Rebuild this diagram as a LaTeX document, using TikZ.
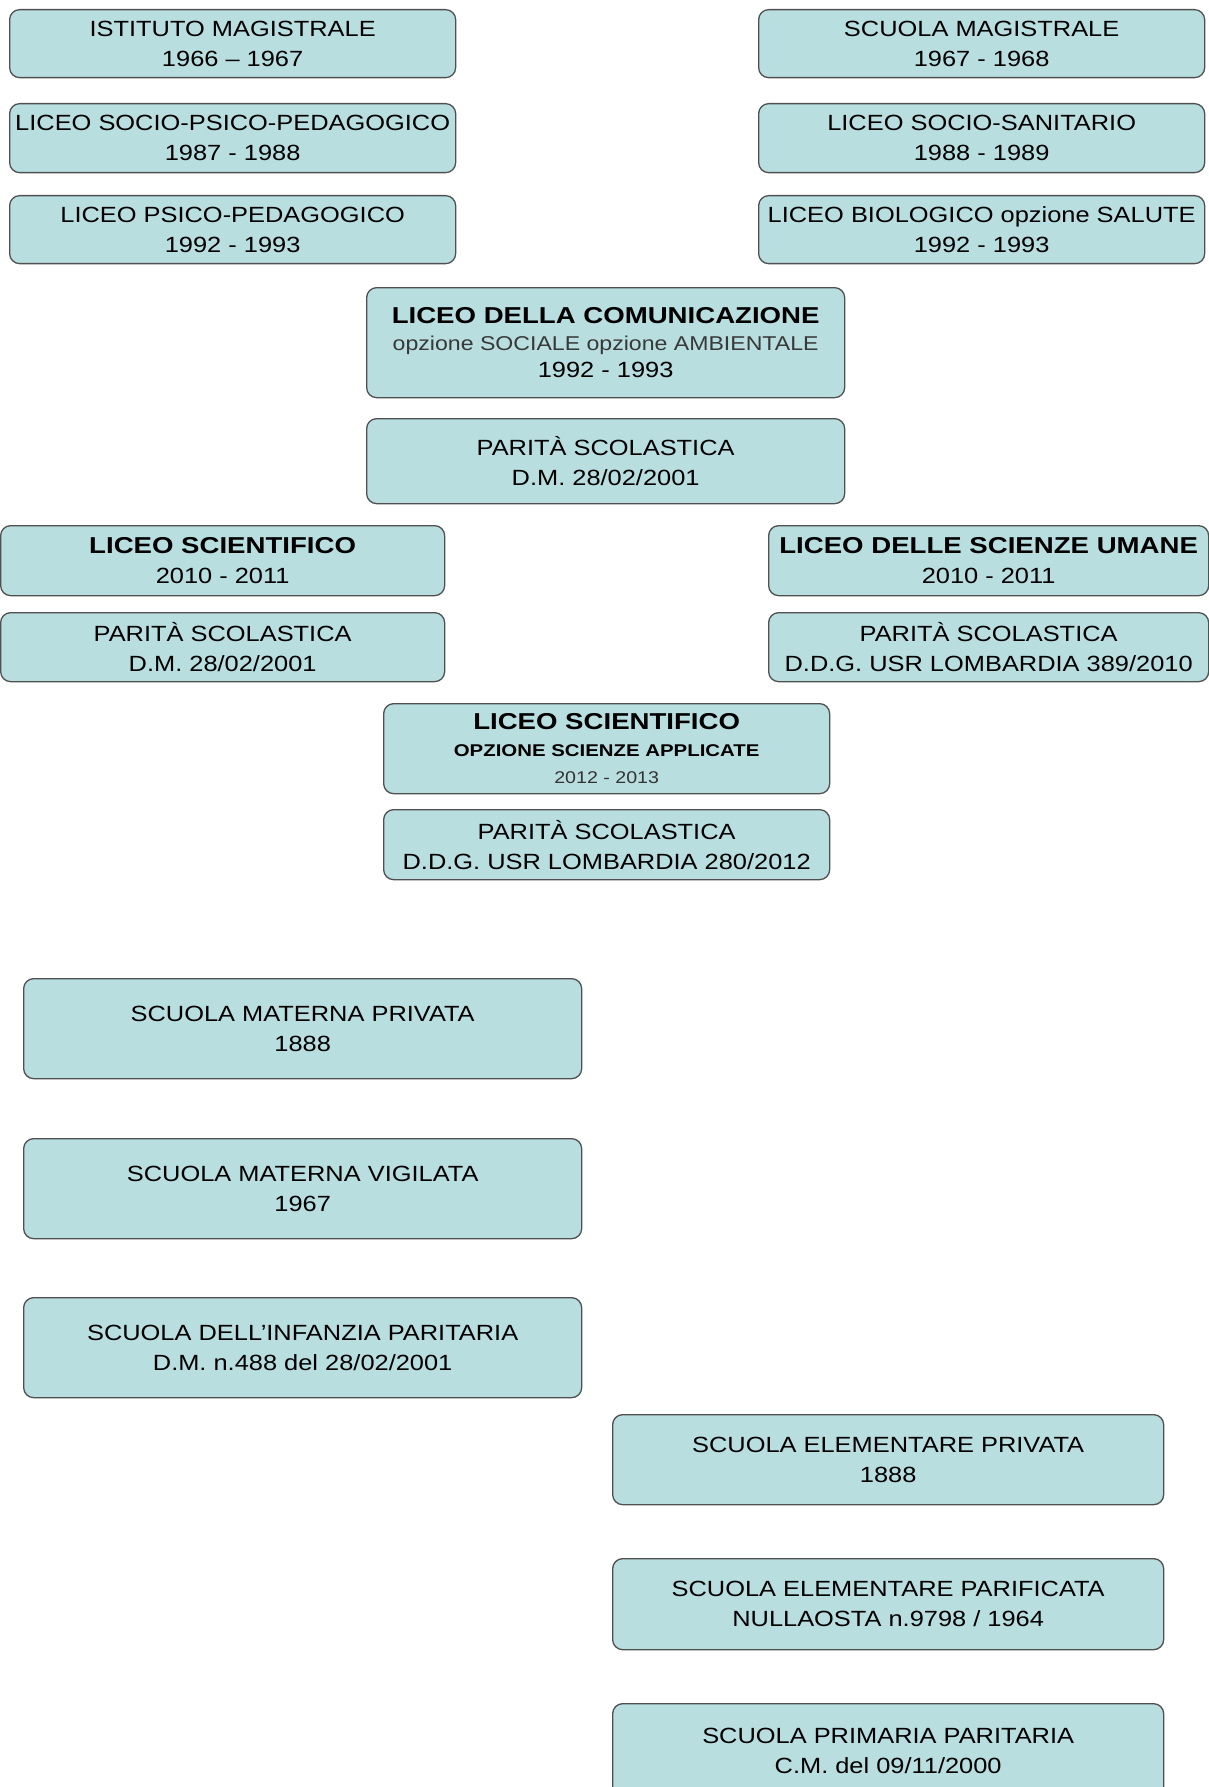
\documentclass[tikz,border=0pt]{standalone}
\usepackage{fontspec}
\setmainfont{Liberation Sans}[FakeStretch=1.155, BoldFeatures={FakeStretch=1.2}]
\definecolor{boxblue}{RGB}{185,222,224}
\definecolor{boxline}{RGB}{80,80,80}
\begin{document}
\begin{tikzpicture}[x=1pt,y=-1pt,
  box/.style={draw=boxline, fill=boxblue, rounded corners=10pt, line width=1.3pt,
    inner sep=0pt, align=center, anchor=north west,
    font=\fontsize{22}{30}\selectfont}]
\useasboundingbox (0,0) rectangle (1208,1787);
% top left column
\node[box, minimum width=446pt, minimum height=68pt] (im) at (9,9) {ISTITUTO MAGISTRALE\\1966 – 1967};
\node[box, minimum width=446pt, minimum height=69pt] (lspp) at (9,103) {LICEO SOCIO-PSICO-PEDAGOGICO\\1987 - 1988};
\node[box, minimum width=446pt, minimum height=68pt] (lpp) at (9,195) {LICEO PSICO-PEDAGOGICO\\1992 - 1993};
% top right column
\node[box, minimum width=446pt, minimum height=68pt] (sm) at (758,9) {SCUOLA MAGISTRALE\\1967 - 1968};
\node[box, minimum width=446pt, minimum height=69pt] (lss) at (758,103) {LICEO SOCIO-SANITARIO\\1988 - 1989};
\node[box, minimum width=446pt, minimum height=68pt] (lb) at (758,195) {LICEO BIOLOGICO opzione SALUTE\\1992 - 1993};
% centre
\node[box, minimum width=478pt, minimum height=110pt, font=\fontsize{22}{27}\selectfont] (lc) at (366,287)
  {{\fontsize{23}{27}\selectfont\bfseries LICEO DELLA COMUNICAZIONE}\\{\fontsize{20}{27}\selectfont\color{black!78}opzione SOCIALE opzione AMBIENTALE}\\1992 - 1993};
\node[box, minimum width=478pt, minimum height=85pt] (p1) at (366,418) {PARITÀ SCOLASTICA\\D.M. 28/02/2001};
% 2010 row
\node[box, minimum width=444pt, minimum height=70pt] (ls) at (0,525) {{\fontsize{23}{30}\selectfont\bfseries LICEO SCIENTIFICO}\\2010 - 2011};
\node[box, minimum width=444pt, minimum height=69pt] (p2) at (0,612) {PARITÀ SCOLASTICA\\D.M. 28/02/2001};
\node[box, minimum width=440pt, minimum height=70pt] (lsu) at (768,525) {{\fontsize{23}{30}\selectfont\bfseries LICEO DELLE SCIENZE UMANE}\\2010 - 2011};
\node[box, minimum width=440pt, minimum height=69pt] (p3) at (768,612) {PARITÀ SCOLASTICA\\D.D.G. USR LOMBARDIA 389/2010};
% 2012
\node[box, minimum width=446pt, minimum height=90pt, font=\fontsize{23}{27}\selectfont] (lsa) at (383,703)
  {{\bfseries LICEO SCIENTIFICO}\\{\fontsize{17}{27}\selectfont\bfseries OPZIONE SCIENZE APPLICATE}\\{\fontsize{17}{26}\selectfont\color{black!80}2012 - 2013}};
\node[box, minimum width=446pt, minimum height=70pt] (p4) at (383,809) {PARITÀ SCOLASTICA\\D.D.G. USR LOMBARDIA 280/2012};
% infanzia
\node[box, minimum width=558pt, minimum height=100pt] (smp) at (23,978) {SCUOLA MATERNA PRIVATA\\1888};
\node[box, minimum width=558pt, minimum height=100pt] (smv) at (23,1138) {SCUOLA MATERNA VIGILATA\\1967};
\node[box, minimum width=558pt, minimum height=100pt] (sip) at (23,1297) {SCUOLA DELL’INFANZIA PARITARIA\\D.M. n.488 del 28/02/2001};
% primaria
\node[box, minimum width=551pt, minimum height=90pt] (sep) at (612,1414) {SCUOLA ELEMENTARE PRIVATA\\1888};
\node[box, minimum width=551pt, minimum height=91pt] (sepf) at (612,1558) {SCUOLA ELEMENTARE PARIFICATA\\NULLAOSTA n.9798 / 1964};
\node[box, minimum width=551pt, minimum height=95pt] (spp) at (612,1703) {SCUOLA PRIMARIA PARITARIA\\C.M. del 09/11/2000};
\end{tikzpicture}
\end{document}
